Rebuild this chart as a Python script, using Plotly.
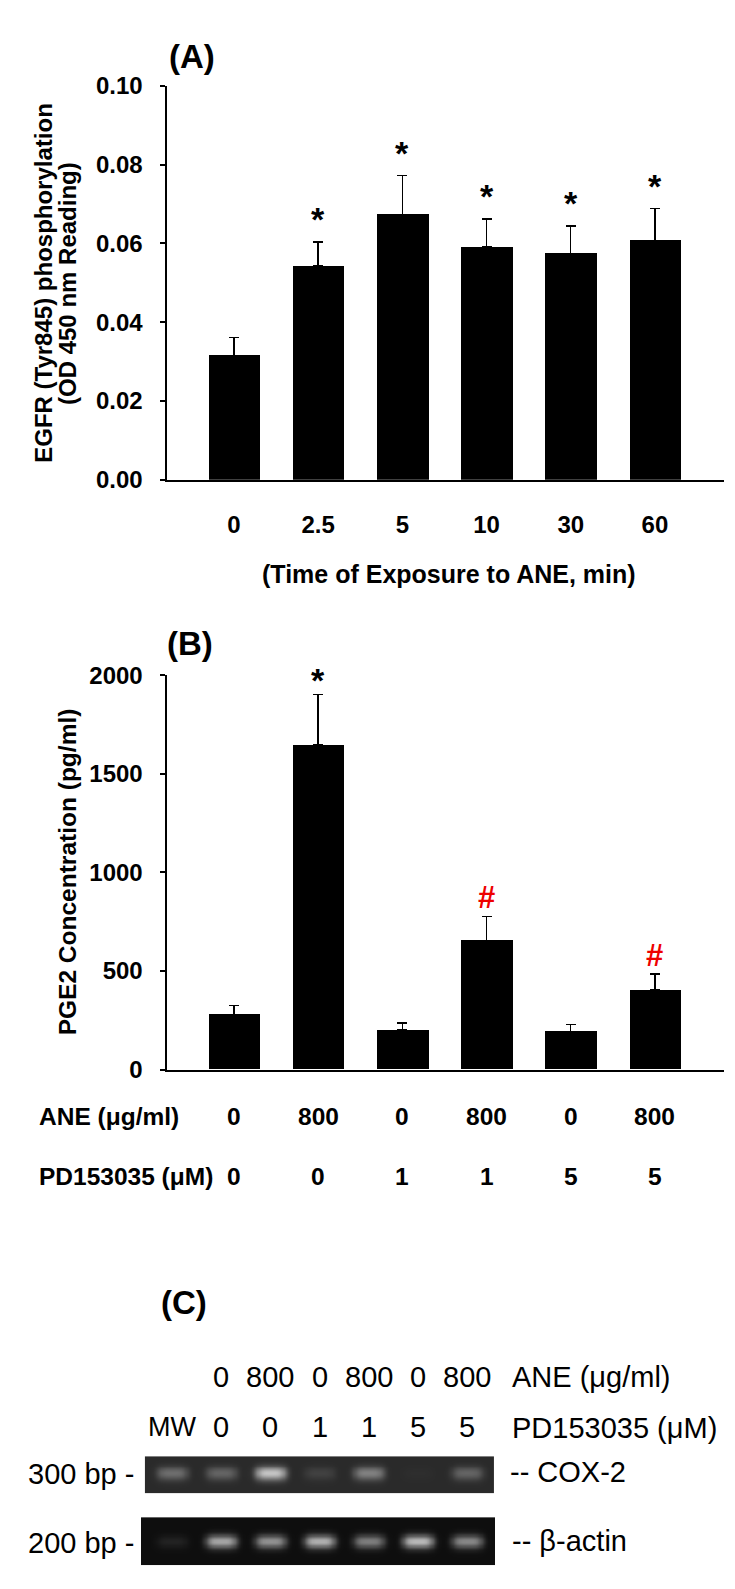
import numpy as np
import plotly.graph_objects as go

# ---------------- data ----------------
time_labels = ["0", "2.5", "5", "10", "30", "60"]
egfr_values = [0.0316, 0.0544, 0.0674, 0.0591, 0.0575, 0.0608]
egfr_errors = [0.0045, 0.0060, 0.0098, 0.0071, 0.0069, 0.0080]
egfr_marks = ["", "*", "*", "*", "*", "*"]

ane_doses = ["0", "800", "0", "800", "0", "800"]
pd_doses = ["0", "0", "1", "1", "5", "5"]
pge2_values = [281, 1647, 201, 655, 193, 404]
pge2_errors = [43, 254, 35, 121, 36, 80]
pge2_marks = ["", "*", "", "#", "", "#"]

gel_lanes = ["MW"] + pd_doses
cox2_band = [0.35, 0.30, 0.80, 0.12, 0.45, 0.02, 0.30]
actin_band = [0.10, 0.75, 0.65, 0.80, 0.55, 0.85, 0.60]
marker_labels = ["300 bp -", "200 bp -"]
gene_labels = ["-- COX-2", "-- β-actin"]

# ---------------- helpers ----------------
W, H = 735, 1589
FONT = "Liberation Sans, Arial, Helvetica, sans-serif"


def px(x):
    return x / W


def py(y):
    return 1 - y / H


fig = go.Figure()
cats = list(range(len(time_labels)))

# Panel A bars
fig.add_trace(go.Bar(
    x=cats, y=egfr_values, width=0.613, marker=dict(color="black", line=dict(width=0)),
    error_y=dict(type="data", array=egfr_errors, arrayminus=[0] * len(cats), symmetric=False,
                 color="black", thickness=1.3, width=5),
    xaxis="x", yaxis="y", showlegend=False, hoverinfo="skip"))

# Panel B bars
fig.add_trace(go.Bar(
    x=cats, y=pge2_values, width=0.613, marker=dict(color="black", line=dict(width=0)),
    error_y=dict(type="data", array=pge2_errors, arrayminus=[0] * len(cats), symmetric=False,
                 color="black", thickness=1.3, width=5),
    xaxis="x2", yaxis="y2", showlegend=False, hoverinfo="skip"))


# Gel images (heatmaps built from band intensities)
def gel_trace(bands, x0, x1, yaxis, bg, peak, sigma_y, yc):
    xs = np.linspace(x0, x1, 160)
    ys = np.linspace(0, 1, 40)
    z = np.zeros((len(ys), len(xs)))
    for lane, inten in enumerate(bands):
        prof_x = np.exp(-((xs - lane) / 0.32) ** 4)
        prof_y = np.exp(-((ys - yc) / sigma_y) ** 2)
        z += inten * np.outer(prof_y, prof_x)
    return go.Heatmap(x=xs, y=ys, z=z, zmin=0, zmax=1, zsmooth="best",
                      colorscale=[[0, bg], [1, peak]], showscale=False,
                      xaxis="x3", yaxis=yaxis, hoverinfo="skip")


fig.add_trace(gel_trace(cox2_band, -0.528, 6.524, "y3", "rgb(42,42,42)", "rgb(235,235,235)", 0.18, 0.55))
fig.add_trace(gel_trace(actin_band, -0.630, 6.565, "y4", "rgb(14,14,14)", "rgb(215,215,215)", 0.14, 0.50))

tickfont = dict(family=FONT, size=24, color="black", weight="bold")
xdom = [px(158.5), px(716)]
xr = [-0.8, 5.82]

fig.update_layout(
    width=W, height=H, autosize=False,
    margin=dict(l=0, r=0, t=0, b=0),
    paper_bgcolor="white", plot_bgcolor="white",
    bargap=0, showlegend=False,
    xaxis=dict(domain=xdom, range=xr, anchor="y", showline=True, linecolor="black", linewidth=2,
               showgrid=False, zeroline=False, ticks="", tickvals=cats, ticktext=time_labels,
               tickfont=tickfont, ticklabelstandoff=22, fixedrange=True),
    yaxis=dict(domain=[py(465.7), py(65)], range=[0, 0.10], anchor="x", showline=True,
               linecolor="black", linewidth=2, showgrid=False, zeroline=False,
               ticks="outside", ticklen=5, tickwidth=2, tickcolor="black", dtick=0.02,
               tickformat=".2f", tickfont=tickfont, ticklabelstandoff=12),
    xaxis2=dict(domain=xdom, range=xr, anchor="y2", showline=True, linecolor="black", linewidth=2,
                showgrid=False, zeroline=False, ticks="", showticklabels=False),
    yaxis2=dict(domain=[py(1065.7), py(664.5)], range=[0, 2000], anchor="x2", showline=True,
                linecolor="black", linewidth=2, showgrid=False, zeroline=False,
                ticks="outside", ticklen=5, tickwidth=2, tickcolor="black", dtick=500,
                tickformat="d", tickfont=tickfont, ticklabelstandoff=12),
    xaxis3=dict(domain=[px(133), px(487)], range=[-0.630, 6.565], anchor="y3", visible=False),
    yaxis3=dict(domain=[py(1497), py(1459)], range=[0, 1], anchor="x3", visible=False),
    yaxis4=dict(domain=[py(1570), py(1521)], range=[0, 1], anchor="x3", visible=False),
)

ann = []


def text(x, y, s, size=24, weight="bold", xanchor="center", color="black", angle=0,
         xref="paper", yref="paper", yshift=0):
    ann.append(dict(x=x, y=y, text=s, showarrow=False, xref=xref, yref=yref,
                    xanchor=xanchor, yanchor="middle", textangle=angle, yshift=yshift,
                    font=dict(family=FONT, size=size, color=color, weight=weight)))


# panel labels
text(px(183.5), py(35), "(A)", size=33)
text(px(182), py(632), "(B)", size=33)
text(px(176), py(1303), "(C)", size=33)

# Panel A titles
text(px(35.8), py(265.5), "EGFR (Tyr845) phosphorylation", size=24, angle=-90)
text(px(60), py(265.5), "(OD 450 nm Reading)", size=24, angle=-90)
text(px(440.6), py(561.7), "(Time of Exposure to ANE, min)", size=25)

# significance marks A
for i, m in enumerate(egfr_marks):
    if m:
        text(i, egfr_values[i] + egfr_errors[i], m, size=34, xref="x", yref="y", yshift=23)

# Panel B titles / rows
text(px(59), py(865), "PGE2 Concentration (pg/ml)", size=24.5, angle=-90)
text(px(29), py(1113), "ANE (μg/ml)", size=24.5, xanchor="left")
text(px(29), py(1174), "PD153035 (μM)", size=24.5, xanchor="left")
for i in cats:
    text(i, py(1113), ane_doses[i], size=24.5, xref="x2")
    text(i, py(1174), pd_doses[i], size=24.5, xref="x2")
for i, m in enumerate(pge2_marks):
    top = pge2_values[i] + pge2_errors[i]
    if m == "*":
        text(i, top, m, size=34, xref="x2", yref="y2", yshift=15)
    elif m == "#":
        text(i, top, "<b>#</b>", size=31, xref="x2", yref="y2", yshift=19, color="#ee0000")

# Panel C labels
for i, d in enumerate(ane_doses):
    text(i + 1, py(1378), d, size=29, weight="normal", xref="x3")
for i, d in enumerate(gel_lanes):
    text(i, py(1429), d, size=29 if i else 27, weight="normal", xref="x3")
text(px(502), py(1378), "ANE (μg/ml)", size=29, weight="normal", xanchor="left")
text(px(502), py(1430), "PD153035 (μM)", size=29, weight="normal", xanchor="left")
text(px(128), py(1477), marker_labels[0], size=29, weight="normal", xanchor="right")
text(px(128), py(1547), marker_labels[1], size=29, weight="normal", xanchor="right")
text(px(500), py(1475), gene_labels[0], size=29, weight="normal", xanchor="left")
text(px(502), py(1545), gene_labels[1], size=29, weight="normal", xanchor="left")

fig.update_layout(annotations=ann)
fig.write_html("out.html")
